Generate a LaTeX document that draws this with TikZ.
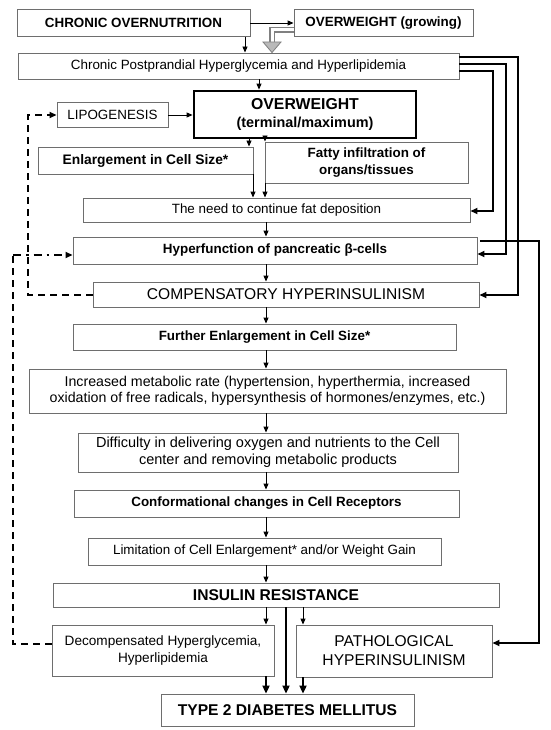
\documentclass[tikz,border=0pt]{standalone}
\usepackage{fontspec}
\setmainfont{Liberation Sans}
\usetikzlibrary{arrows.meta,calc}
\definecolor{boxgray}{RGB}{110,110,110}
\newcommand\fsN{\fontsize{13.4}{16.4}\selectfont}
\newcommand\fsL{\fontsize{15.6}{19}\selectfont}
\begin{document}
\begin{tikzpicture}[x=1pt,y=-1pt,
  box/.style={draw=boxgray, line width=0.9pt, fill=white, inner sep=0pt, align=center, text=black, font=\fsN},
  arr/.style={line width=0.9pt, -{Triangle[length=6pt,width=5pt]}},
  tarr/.style={line width=2.4pt, -{Triangle[length=8pt,width=7pt]}},
  rl/.style={line width=2.1pt, -{Triangle[length=7pt,width=6pt]}},
  dsh/.style={line width=2.5pt, dash pattern=on 7pt off 5pt, -{Triangle[length=7pt,width=6pt]}},
  dshdot/.style={line width=2.5pt, dash pattern=on 8pt off 5pt on 2.5pt off 5pt, -{Triangle[length=7pt,width=6pt]}},
]
\useasboundingbox (0,0) rectangle (550,730);
\fill[white] (0,0) rectangle (550,730);

% helper coordinates
\foreach \v in {13,28,245,249,253,259,265,266,272,286,303,493,506,518,539}{\coordinate (X\v) at (\v,0);}
\foreach \v in {30,42,57,64,71,115,211,241,254,255,295,643,644}{\coordinate (Y\v) at (0,\v);}

% nodes
\node[box, minimum width=233, minimum height=27, font=\fsN\bfseries] (CO) at (133.5,23) {CHRONIC OVERNUTRITION};
\node[box, minimum width=179, minimum height=27, font=\fsN\bfseries] (OG) at (383.5,23) {OVERWEIGHT (growing)};
\node[box, minimum width=441, minimum height=26] (CPH) at (238.5,66) {Chronic Postprandial Hyperglycemia and Hyperlipidemia};
\node[box, draw=black, line width=2.8pt, minimum width=222, minimum height=47, font=\fontsize{14.4}{18.7}\selectfont\bfseries] (OT) at (305,114.5) {{\fontsize{15.8}{18.7}\selectfont OVERWEIGHT}\\(terminal/maximum)};
\node[box, minimum width=111, minimum height=25] (LIPO) at (112.5,115) {LIPOGENESIS};
\node[box, minimum width=215, minimum height=27, font=\fontsize{13.8}{16.4}\selectfont\bfseries] (Enl) at (145.5,160.5) {Enlargement in Cell Size*};
\node[box, minimum width=203, minimum height=41, font=\fsN\bfseries] (Fatty) at (366.5,162.5) {Fatty infiltration of\\organs/tissues};
\node[box, minimum width=387, minimum height=24] (Need) at (276.5,210) {The need to continue fat deposition};
\node[box, minimum width=404, minimum height=27, font=\fsN\bfseries] (Hyper) at (275,250.5) {Hyperfunction of pancreatic β-cells};
\node[box, minimum width=386, minimum height=25, font=\fsL] (COMP) at (286,294.5) {COMPENSATORY HYPERINSULINISM};
\node[box, minimum width=383, minimum height=26, font=\fsN\bfseries] (Further) at (264.5,337) {Further Enlargement in Cell Size*};
\node[box, minimum width=477, minimum height=44, font=\fontsize{14.2}{16.4}\selectfont] (Inc) at (267.5,391) {Increased metabolic rate (hypertension, hyperthermia, increased\\oxidation of free radicals, hypersynthesis of hormones/enzymes, etc.)};
\node[box, minimum width=380, minimum height=39, font=\fontsize{14.5}{16.6}\selectfont] (Diff) at (268,452.5) {Difficulty in delivering oxygen and nutrients to the Cell\\center and removing metabolic products};
\node[box, minimum width=385, minimum height=27, font=\fsN\bfseries] (Conf) at (266.5,503.5) {Conformational changes in Cell Receptors};
\node[box, minimum width=353, minimum height=27] (Lim) at (264.5,551.5) {Limitation of Cell Enlargement* and/or Weight Gain};
\node[box, minimum width=446, minimum height=24, font=\fsL\bfseries] (IR) at (276,595) {INSULIN RESISTANCE};
\node[box, minimum width=222, minimum height=51, font=\fontsize{13.6}{16.5}\selectfont] (Dec) at (163,650.5) {Decompensated Hyperglycemia,\\Hyperlipidemia};
\node[box, minimum width=196, minimum height=52, font=\fsL] (PATH) at (394,651) {PATHOLOGICAL\\HYPERINSULINISM};
\node[box, minimum width=253, minimum height=32, font=\fsL\bfseries] (T2D) at (287.5,710) {TYPE 2 DIABETES MELLITUS};

% top connectors
\draw[arr] (CO.east) -- (OG.west);
\draw[arr] (CO.south -| X245) -- (CPH.north -| X245);
\draw[draw=gray, line width=1.2pt, double=white, double distance=3pt] (OG.west |- Y30) -| (X272 |- Y42);
\filldraw[draw=gray, fill=gray!55, line width=0.8pt] ($(X272 |- Y42)+(-9,0)$) -- ($(X272 |- Y42)+(9,0)$) -- (X272 |- CPH.north) -- cycle;
\draw[arr] (CPH.south -| X259) -- (OT.north -| X259);
\draw[arr] (LIPO.east) -- (OT.west |- LIPO.east);
\draw[arr] (OT.south -| X249) -- (Enl.north -| X249);
\draw[arr] (OT.south -| X265) -- (Fatty.north -| X265);
\draw[arr] (Enl.south -| X253) -- (Need.north -| X253);
\draw[arr] (Fatty.south -| X265) -- (Need.north -| X265);

% main column
\draw[arr] (Need.south -| X266) -- (Hyper.north -| X266);
\draw[arr] (Hyper.south -| X266) -- (COMP.north -| X266);
\draw[arr] (COMP.south -| X266) -- (Further.north -| X266);
\draw[arr] (Further.south -| X266) -- (Inc.north -| X266);
\draw[arr] (Inc.south -| X266) -- (Diff.north -| X266);
\draw[arr] (Diff.south -| X266) -- (Conf.north -| X266);
\draw[arr] (Conf.south -| X266) -- (Lim.north -| X266);
\draw[arr] (Lim.south -| X266) -- (IR.north -| X266);

% bottom
\draw[arr] (IR.south -| X266) -- (Dec.north -| X266);
\draw[arr] (IR.south -| X303) -- (PATH.north -| X303);
\draw[tarr] (IR.south -| X286) -- (T2D.north -| X286);
\draw[tarr] (Dec.south -| X266) -- (T2D.north -| X266);
\draw[tarr] (PATH.south -| X303) -- (T2D.north -| X303);

% right lines
\draw[rl] (CPH.east |- Y57) -| (X518 |- Y295) -- (COMP.east |- Y295);
\draw[rl] (CPH.east |- Y64) -| (X506 |- Y254) -- (Hyper.east |- Y254);
\draw[rl] (CPH.east |- Y71) -| (X493 |- Y211) -- (Need.east |- Y211);
\draw[rl] ($(Hyper.east |- Y241)+(3,0)$) -| (X539 |- Y643) -- (PATH.east |- Y643);

% dashed feedback lines
\draw[dsh] (COMP.west |- Y295) -- (X28 |- Y295) -- (X28 |- Y115) -- (LIPO.west |- Y115);
\draw[line width=2.5pt, dash pattern=on 7pt off 5pt] (Dec.west |- Y644) -- (X13 |- Y644) -- (X13 |- Y255);
\draw[dshdot] (X13 |- Y255) -- (Hyper.west |- Y255);
\end{tikzpicture}
\end{document}
